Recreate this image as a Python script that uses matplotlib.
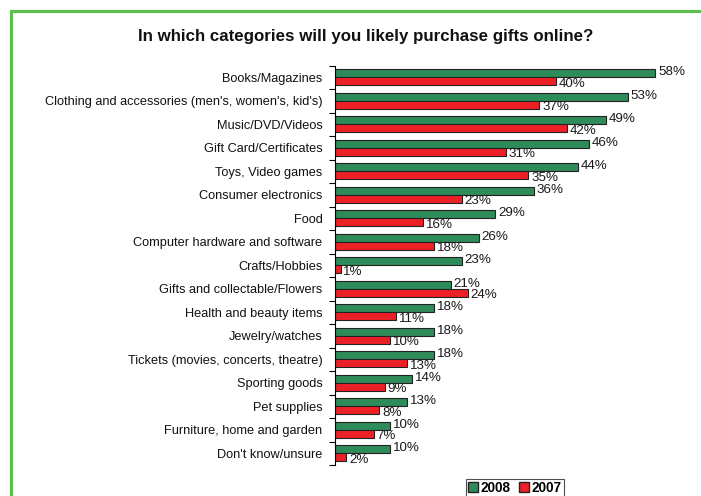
import numpy as np
import matplotlib.pyplot as plt
from matplotlib.patches import Rectangle
from matplotlib.lines import Line2D

plt.rcParams['font.family'] = ['Liberation Sans', 'DejaVu Sans']

categories = [
    'Books/Magazines',
    "Clothing and accessories (men's, women's, kid's)",
    'Music/DVD/Videos',
    'Gift Card/Certificates',
    'Toys, Video games',
    'Consumer electronics',
    'Food',
    'Computer hardware and software',
    'Crafts/Hobbies',
    'Gifts and collectable/Flowers',
    'Health and beauty items',
    'Jewelry/watches',
    'Tickets (movies, concerts, theatre)',
    'Sporting goods',
    'Pet supplies',
    'Furniture, home and garden',
    "Don't know/unsure",
]
y2008 = [58, 53, 49, 46, 44, 36, 29, 26, 23, 21, 18, 18, 18, 14, 13, 10, 10]
y2007 = [40, 37, 42, 31, 35, 23, 16, 18, 1, 24, 11, 10, 13, 9, 8, 7, 2]

green = '#2e8b5a'
red = '#ee2027'

fig = plt.figure(figsize=(7.01, 4.96), dpi=100)
ax = fig.add_axes([0.478, 0.0625, 0.50, 0.805])

n = len(categories)
pos = np.arange(n)
h = 0.34
ax.barh(pos - h / 2, y2008, height=h, color=green, edgecolor='#222222', linewidth=0.8)
ax.barh(pos + h / 2, y2007, height=h, color=red, edgecolor='#222222', linewidth=0.8)

for p, a, b in zip(pos, y2008, y2007):
    ax.text(a + 0.5, p - h / 2 - 0.05, f'{a}%', va='center', ha='left', fontsize=9.6, color='#1a1a1a')
    ax.text(b + 0.5, p + h / 2 + 0.1, f'{b}%', va='center', ha='left', fontsize=9.6, color='#1a1a1a')

ax.set_xlim(0, 63.5)
ax.set_ylim(n - 0.5, -0.5)
ax.set_yticks(pos)
ax.set_yticklabels(categories, fontsize=9.2, color='#111111')
ax.set_yticks(np.arange(n + 1) - 0.5, minor=True)
ax.tick_params(axis='y', which='major', length=0, pad=9)
ax.tick_params(axis='y', which='minor', length=4, width=0.8)
ax.set_xticks([])
for s in ['top', 'right', 'bottom']:
    ax.spines[s].set_visible(False)
ax.spines['left'].set_linewidth(0.8)

fig.text(0.522, 0.927, 'In which categories will you likely purchase gifts online?',
         ha='center', va='center', fontsize=12.2, fontweight='bold', color='#111111')

# green frame around the chart area
fig.patches.append(Rectangle((11 / 701, -0.1), 1.2, (485 / 496) + 0.1, transform=fig.transFigure,
                             fill=False, edgecolor='#5cbf4e', linewidth=2.2))

handles = [
    Line2D([], [], marker='s', linestyle='none', markerfacecolor=green, markeredgecolor='#222222', markersize=7),
    Line2D([], [], marker='s', linestyle='none', markerfacecolor=red, markeredgecolor='#222222', markersize=7),
]
leg = fig.legend(handles, ['2008', '2007'], loc='lower left', bbox_to_anchor=(466 / 701, -0.004),
                 ncol=2, frameon=True, fancybox=False, fontsize=9.8, handlelength=0.6,
                 handletextpad=0.25, columnspacing=0.7, borderpad=0.2, borderaxespad=0)
leg.get_frame().set_edgecolor('#222222')
leg.get_frame().set_linewidth(0.8)
for t in leg.get_texts():
    t.set_fontweight('bold')

fig.savefig('out.png', dpi=100)
